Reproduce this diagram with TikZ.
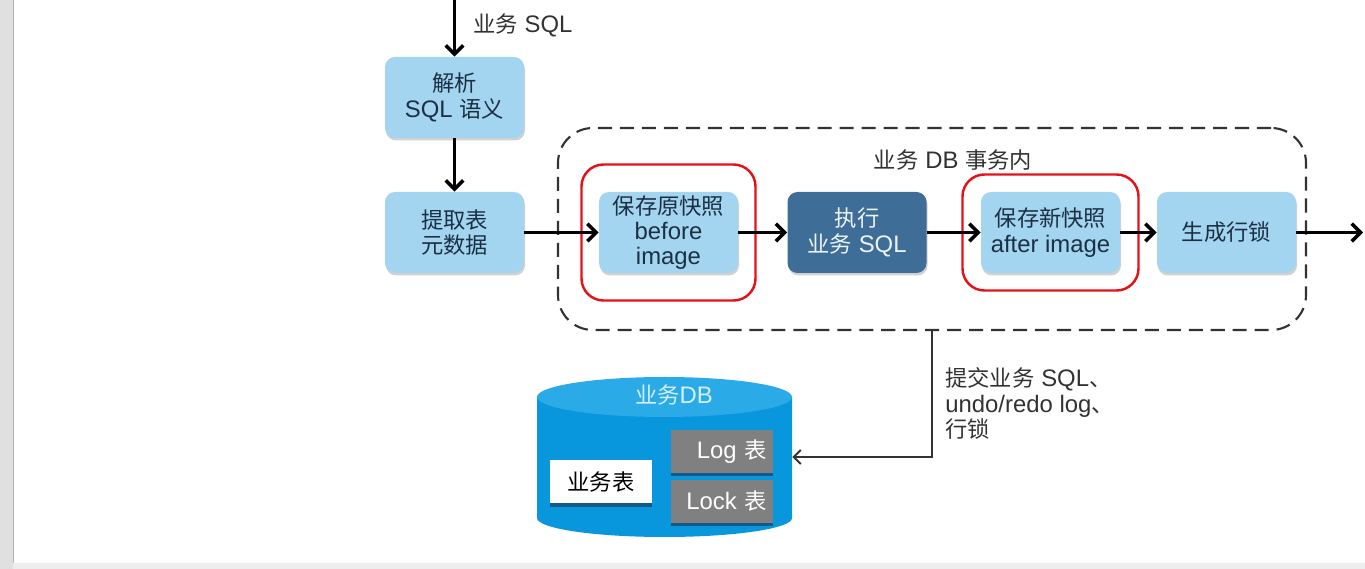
\documentclass[tikz,border=0pt]{standalone}
\usepackage{fontspec}
\setmainfont{Liberation Sans}[Scale=1.07]
\newfontfamily\zh{Noto Sans CJK SC}
\usepackage{tikz}
\usetikzlibrary{arrows.meta,shadows}

\definecolor{boxblue}{RGB}{163,212,240}
\definecolor{boxtext}{RGB}{28,48,68}
\definecolor{execblue}{RGB}{62,110,152}
\definecolor{exectext}{RGB}{236,243,250}
\definecolor{dbbody}{RGB}{8,150,220}
\definecolor{dbtop}{RGB}{42,171,232}
\definecolor{dbtext}{RGB}{214,238,250}
\definecolor{tablegray}{RGB}{128,128,128}
\definecolor{tableshadow}{RGB}{18,84,128}
\definecolor{framered}{RGB}{228,18,24}
\definecolor{labeltext}{RGB}{50,50,50}

\begin{document}
\begin{tikzpicture}[
	font=\fontsize{12.7}{14.4}\selectfont,
	stepnode/.style={rectangle, rounded corners=2mm, fill=boxblue, text=boxtext, align=center, minimum width=2.78cm, minimum height=1.62cm, inner sep=1pt, drop shadow={shadow xshift=0.2mm, shadow yshift=-0.5mm, fill=black, opacity=0.18}},
	execnode/.style={stepnode, fill=execblue, text=exectext},
	redframe/.style={rectangle, draw=framered, line width=1.4pt, rounded corners=4.4mm},
	txnframe/.style={rectangle, draw=labeltext, line width=1.2pt, dash pattern=on 8pt off 4.5pt, rounded corners=7mm},
	tablenode/.style={rectangle, fill=white, text=black, minimum width=2.04cm, minimum height=0.86cm, inner sep=1pt, drop shadow={shadow xshift=0pt, shadow yshift=-0.7mm, fill=tableshadow, opacity=0.9}},
	metanode/.style={tablenode, fill=tablegray, text=white, text width=1.8cm, align=right},
	flow/.style={line width=2pt, -{Straight Barb[length=5pt,width=10pt]}},
	commit/.style={line width=1.1pt, draw=labeltext, -{Straight Barb[length=4pt,width=8pt]}},
	]
	\useasboundingbox (0,0) rectangle (27.3,-11.38);
	%Window edges
	\fill[black!12] (0,0) rectangle (0.26,-11.38);
	\draw[black!30] (0.26,0) -- (0.26,-11.26);
	\fill[black!7] (0.26,-11.26) rectangle (27.3,-11.38);

	%Nodes
	\coordinate (in) at (9.09,0);
	\node[stepnode]     (parse)   at (9.09,-1.95)                     {{\zh 解析}\\SQL {\zh 语义}};
	\node[stepnode]     (meta)    [below of = parse, node distance=2.7cm]  {{\zh 提取表}\\{\zh 元数据}};
	\node[stepnode]     (before)  [right of = meta, node distance=4.28cm]  {{\zh 保存原快照}\\before\\image};
	\node[execnode]     (exec)    [right of = before, node distance=3.77cm] {{\zh 执行}\\{\zh 业务} SQL};
	\node[stepnode]     (after)   [right of = exec, node distance=3.87cm]  {{\zh 保存新快照}\\after image};
	\node[stepnode]     (lock)    [right of = after, node distance=3.52cm] {\zh 生成行锁};
	\coordinate (out) at (27.26,-4.6);

	\node[redframe, minimum width=3.48cm, minimum height=2.72cm] (f1) at (before) {};
	\node[redframe, minimum width=3.52cm, minimum height=2.32cm] (f2) at (after) {};
	\node[txnframe, minimum width=14.96cm, minimum height=4.04cm] (txn) at (18.64,-4.58) {};
	\node[text=labeltext] (txnlabel) at (19.06,-3.2) {{\zh 业务} DB {\zh 事务内}};
	\node[text=labeltext, anchor=west, inner sep=0] (sqllabel) at (9.46,-0.5) {{\zh 业务} SQL};
	\node[text=labeltext, anchor=west, align=left, inner sep=0] (commitlabel) at (18.9,-8.07) {{\zh 提交业务} SQL{\zh 、}\\undo/redo log{\zh 、}\\{\zh 行锁}};

	%Database
	\fill[dbbody] (10.74,-7.94) -- (10.74,-10.36) arc[start angle=180, end angle=360, x radius=2.55cm, y radius=0.38cm] -- (15.84,-7.94) -- cycle;
	\fill[dbtop] (13.29,-7.94) ellipse [x radius=2.55cm, y radius=0.4cm];
	\node[minimum width=5.1cm, minimum height=3.2cm, inner sep=0] (db) at (13.29,-9.14) {};
	\node[text=dbtext] (dbname) at (13.48,-7.9) {{\zh 业务}DB};
	\node[tablenode]    (biz)     at (12.02,-9.63)                      {\zh 业务表};
	\node[metanode]     (logtab)  at (14.44,-9.03)                      {Log {\zh 表}};
	\node[metanode]     (locktab) [below of = logtab, node distance=1cm] {Lock {\zh 表}};

	%Lines
	\draw[flow] (in) -- (parse);
	\draw[flow] (parse) -- (meta);
	\draw[flow] (meta) -- (before);
	\draw[flow] (before) -- (exec);
	\draw[flow] (exec) -- (after);
	\draw[flow] (after) -- (lock);
	\draw[flow] (lock.east) -- (lock.east -| out);
	\draw[commit] (txn.south) |- (db.east);
\end{tikzpicture}
\end{document}
